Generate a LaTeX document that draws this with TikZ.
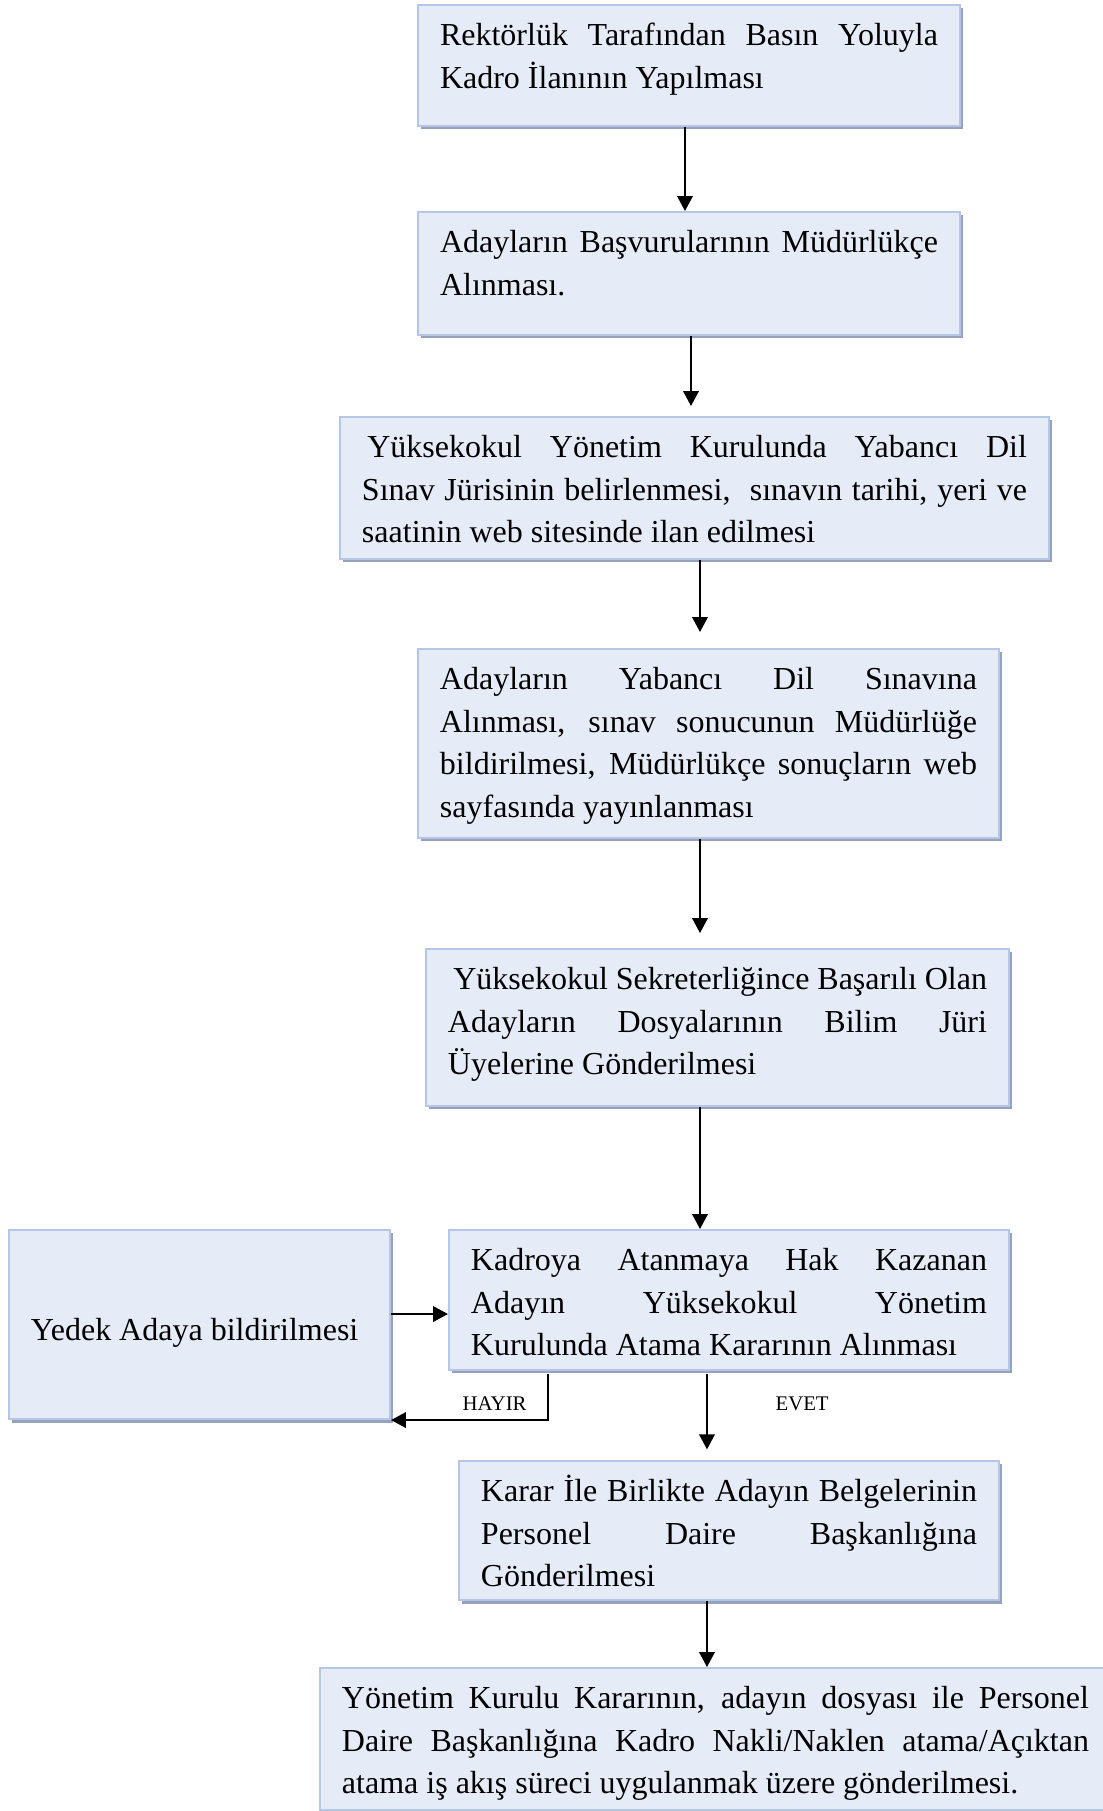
\documentclass[tikz,border=0pt]{standalone}
\usepackage{fontspec}
\setmainfont{Liberation Serif}
\usepackage{tikz}
\usetikzlibrary{positioning,shadows,arrows.meta}
\definecolor{boxfill}{RGB}{230,236,247}
\definecolor{boxline}{RGB}{182,198,231}
\definecolor{boxshadow}{RGB}{150,161,190}
\hyphenpenalty=10000
\exhyphenpenalty=10000

\begin{document}
\begin{tikzpicture}[x=0.375pt,y=-0.375pt,>={Triangle[length=5.6pt,width=5.8pt]}]
	\tikzstyle{box}=[rectangle,draw=boxline,line width=0.75pt,fill=boxfill,
		drop shadow={shadow xshift=1.3pt,shadow yshift=-1.3pt,fill=boxshadow,opacity=1},
		inner xsep=8.25pt,inner ysep=0pt,align=justify,text height=15.25pt,
		font=\fontsize{12}{15.94}\selectfont]
	\tikzstyle{answer}=[font=\fontsize{7.8}{9}\selectfont]
	\useasboundingbox (0,0) rectangle (1103,1811);
		\node[box,text width=186.75pt,text depth=30.125pt] (ilan) at (689,65.5)
			{Rektörlük Tarafından Basın Yoluyla\linebreak Kadro İlanının Yapılması};
		\node[box,text width=186.75pt,text depth=30.875pt] (basvuru) [below of=ilan,node distance=78pt]
			{Adayların Başvurularının Müdürlükçe\linebreak Alınması.};
		\node[box,text width=249.375pt,text depth=38pt] (juri) [below of=basvuru,node distance=80.44pt,xshift=2.06pt]
			{\hspace*{2pt}Yüksekokul Yönetim Kurulunda Yabancı Dil\linebreak Sınav Jürisinin belirlenmesi,\ \ sınavın tarihi, yeri ve\linebreak saatinin web sitesinde ilan edilmesi};
		\node[box,text width=201.375pt,text depth=55.625pt] (sinav) [below of=juri,node distance=95.81pt,xshift=5.25pt]
			{Adayların Yabancı Dil Sınavına\linebreak Alınması, sınav sonucunun Müdürlüğe\linebreak bildirilmesi, Müdürlükçe sonuçların web\linebreak sayfasında yayınlanması};
		\node[box,text width=202.125pt,text depth=43.625pt] (dosya) [below of=sinav,node distance=106.5pt,xshift=3.375pt]
			{\hspace*{2pt}Yüksekokul Sekreterliğince Başarılı Olan\linebreak Adayların Dosyalarının Bilim Jüri\linebreak Üyelerine Gönderilmesi};
		\node[box,text width=193.5pt,text depth=37.25pt] (karar) [below of=dosya,node distance=102.19pt,xshift=4.31pt]
			{Kadroya Atanmaya Hak Kazanan\linebreak Adayın Yüksekokul Yönetim\linebreak Kurulunda Atama Kararının Alınması};
		\node[box,text width=126.4pt,text height=41.3pt,text depth=29.6pt] (yedek) [left of=karar,node distance=198.56pt,yshift=-9.19pt]
			{Yedek Adaya bildirilmesi};
		\node[box,text width=186pt,text depth=36.875pt] (belge) [below of=karar,node distance=86.44pt]
			{Karar İle Birlikte Adayın Belgelerinin\linebreak Personel Daire Başkanlığına\linebreak Gönderilmesi};
		\node[box,text width=280.125pt,text depth=38pt] (gonder) [below of=belge,node distance=78.19pt,xshift=-5.06pt]
			{Yönetim Kurulu Kararının, adayın dosyası ile Personel\linebreak Daire Başkanlığına Kadro Nakli/Naklen atama/Açıktan\linebreak atama iş akış süreci uygulanmak üzere gönderilmesi.};
			\draw[->,line width=0.75pt] ([xshift=-1.5pt]ilan.south) -- ([xshift=-1.5pt]ilan.south |- basvuru.north);
			\draw[->,line width=0.75pt,shorten >=3.75pt] ([xshift=0.75pt]basvuru.south) -- ([xshift=0.75pt]basvuru.south |- juri.north);
			\draw[->,line width=0.75pt,shorten >=6pt] ([xshift=2.06pt]juri.south) -- ([xshift=2.06pt]juri.south |- sinav.north);
			\draw[->,line width=0.75pt,shorten >=5.6pt] ([xshift=-3.19pt]sinav.south) -- ([xshift=-3.19pt]sinav.south |- dosya.north);
			\draw[->,line width=0.75pt] ([xshift=-6.56pt]dosya.south) -- ([xshift=-6.56pt]dosya.south |- karar.north);
			\draw[->,line width=0.75pt] ([yshift=3.94pt]yedek.east) -- ([yshift=3.94pt]yedek.east -| karar.west);
			\draw[->,line width=0.75pt,shorten <=1.1pt] ([xshift=-67.9pt]karar.south) |- (yedek.south east)
				node[answer,pos=0.67,above=-0.3pt] {HAYIR};
			\draw[->,line width=0.75pt,shorten <=1.1pt,shorten >=4pt] ([xshift=-8.25pt]karar.south) -- ([xshift=-8.25pt]karar.south |- belge.north)
				node[answer,pos=0.374,right=22pt] {EVET};
			\draw[->,line width=0.75pt] ([xshift=-8.25pt]belge.south) -- ([xshift=-8.25pt]belge.south |- gonder.north);
\end{tikzpicture}
\end{document}
